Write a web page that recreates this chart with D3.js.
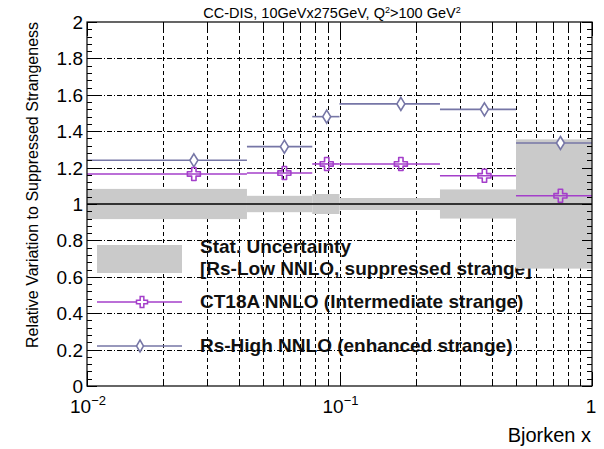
<!DOCTYPE html>
<html>
<head>
<meta charset="utf-8">
<script src="https://cdnjs.cloudflare.com/ajax/libs/d3/7.8.5/d3.min.js"></script>
<style>
  html, body { margin: 0; padding: 0; background: #fff; }
  svg { display: block; font-family: "Liberation Sans", Arial, Helvetica, sans-serif; }
</style>
</head>
<body>
<svg id="chart" width="604" height="449"></svg>
<script>
// ---- data ----
const binEdges = [0.01, 0.043, 0.078, 0.1, 0.25, 0.5, 1];
const statUnc  = [0.083, 0.045, 0.055, 0.033, 0.08, 0.355];
const ct18a    = [1.165, 1.17, 1.22, 1.22, 1.155, 1.045];
const rsHigh   = [1.24, 1.315, 1.48, 1.55, 1.52, 1.335];
const yTicks   = [0, 0.2, 0.4, 0.6, 0.8, 1, 1.2, 1.4, 1.6, 1.8, 2];
const yTickLabels = ["0", "0.2", "0.4", "0.6", "0.8", "1", "1.2", "1.4", "1.6", "1.8", "2"];
const xMajor   = [0.01, 0.1, 1];
const xMinor   = [0.02,0.03,0.04,0.05,0.06,0.07,0.08,0.09,0.2,0.3,0.4,0.5,0.6,0.7,0.8,0.9];
const title    = "CC-DIS, 10GeVx275GeV, Q";
const legendItems = ["Stat. Uncertainty", "[Rs-Low NNLO, suppressed strange]", "CT18A NNLO (Intermediate strange)", "Rs-High NNLO (enhanced strange)"];

// ---- layout ----
const L = 87, R = 592, T = 22, B = 386;
const x = d3.scaleLog().domain([0.01, 1]).range([L, R]);
const y = d3.scaleLinear().domain([0, 2]).range([B, T]);
const svg = d3.select("#chart");
const ctColor = "#a43fca", rsColor = "#7676a6", band = "#cacaca";

const bins = d3.range(ct18a.length).map(i => ({
  lo: binEdges[i], hi: binEdges[i+1], c: (binEdges[i] + binEdges[i+1]) / 2,
  unc: statUnc[i], ct: ct18a[i], rs: rsHigh[i]
}));

// legend text (drawn below grid like original)
const lg = svg.append("g").attr("font-weight", "bold").attr("font-size", 19).attr("fill", "#111");
lg.append("text").attr("x", 200).attr("y", 253).text(legendItems[0]);
lg.append("text").attr("x", 200).attr("y", 275).text(legendItems[1]);
lg.append("text").attr("x", 200).attr("y", 308).text(legendItems[2]);
lg.append("text").attr("x", 200).attr("y", 352).text(legendItems[3]);

// grid
const grid = svg.append("g").attr("stroke", "#000").attr("stroke-width", 1);
grid.selectAll("line.gx").data(xMinor.concat([0.1])).join("line")
  .attr("x1", d => Math.round(x(d)) + 0.5).attr("x2", d => Math.round(x(d)) + 0.5)
  .attr("y1", T).attr("y2", B).attr("stroke-dasharray", "4,3");
grid.selectAll("line.gy").data(yTicks.filter(v => v > 0 && v < 2)).join("line")
  .attr("x1", L).attr("x2", R)
  .attr("y1", d => Math.round(y(d)) + 0.5).attr("y2", d => Math.round(y(d)) + 0.5)
  .attr("stroke-dasharray", "5,2,1,2");

// stat uncertainty bands
svg.append("g").selectAll("rect").data(bins).join("rect")
  .attr("x", d => x(d.lo)).attr("width", d => x(d.hi) - x(d.lo))
  .attr("y", d => y(1 + d.unc)).attr("height", d => y(1 - d.unc) - y(1 + d.unc))
  .attr("fill", band);

// line at 1
svg.append("line").attr("x1", L).attr("x2", R).attr("y1", y(1)).attr("y2", y(1))
  .attr("stroke", "#000").attr("stroke-width", 1.6);

// marker shapes
function crossPath(h) {
  const a = h / 3;
  return `M${-a},${-h}L${a},${-h}L${a},${-a}L${h},${-a}L${h},${a}L${a},${a}L${a},${h}L${-a},${h}L${-a},${a}L${-h},${a}L${-h},${-a}L${-a},${-a}Z`;
}
function diamondPath(w, h) {
  return `M0,${-h}L${w},0L0,${h}L${-w},0Z`;
}

// Rs-High series
const gRs = svg.append("g");
gRs.selectAll("line").data(bins).join("line")
  .attr("x1", d => x(d.lo)).attr("x2", d => x(d.hi))
  .attr("y1", d => y(d.rs)).attr("y2", d => y(d.rs))
  .attr("stroke", rsColor).attr("stroke-width", 1.6);
gRs.selectAll("path").data(bins).join("path")
  .attr("transform", d => `translate(${x(d.c)},${y(d.rs)})`)
  .attr("d", diamondPath(4, 6.5))
  .attr("fill", "#fff").attr("stroke", rsColor).attr("stroke-width", 1.6);

// CT18A series
const gCt = svg.append("g");
gCt.selectAll("line").data(bins).join("line")
  .attr("x1", d => x(d.lo)).attr("x2", d => x(d.hi))
  .attr("y1", d => y(d.ct)).attr("y2", d => y(d.ct))
  .attr("stroke", ctColor).attr("stroke-width", 1.6);
gCt.selectAll("path").data(bins).join("path")
  .attr("transform", d => `translate(${x(d.c)},${y(d.ct)})`)
  .attr("d", crossPath(6.5))
  .attr("fill", "none").attr("stroke", ctColor).attr("stroke-width", 1.6)
  .attr("stroke-linejoin", "round");

// legend symbols
svg.append("rect").attr("x", 97).attr("y", 245).attr("width", 85).attr("height", 28).attr("fill", band);
svg.append("line").attr("x1", 97).attr("x2", 182).attr("y1", 302).attr("y2", 302).attr("stroke", ctColor).attr("stroke-width", 1.6);
svg.append("path").attr("transform", "translate(142,302)").attr("d", crossPath(5.5))
  .attr("fill", "#fff").attr("stroke", ctColor).attr("stroke-width", 1.5);
svg.append("line").attr("x1", 97).attr("x2", 182).attr("y1", 346).attr("y2", 346).attr("stroke", rsColor).attr("stroke-width", 1.6);
svg.append("path").attr("transform", "translate(140,346)").attr("d", diamondPath(3.5, 6))
  .attr("fill", "#fff").attr("stroke", rsColor).attr("stroke-width", 1.5);

// frame
svg.append("rect").attr("x", L).attr("y", T).attr("width", R - L).attr("height", B - T)
  .attr("fill", "none").attr("stroke", "#000").attr("stroke-width", 1.2);

// ticks
const tk = svg.append("g").attr("stroke", "#000").attr("stroke-width", 1);
const yMinor = d3.range(0, 2.0001, 0.04);
tk.selectAll("line.yl").data(yMinor).join("line")
  .attr("x1", L).attr("x2", (d, i) => L + (i % 5 === 0 ? 10 : 5))
  .attr("y1", d => Math.round(y(d)) + 0.5).attr("y2", d => Math.round(y(d)) + 0.5);
tk.selectAll("line.yr").data(yMinor).join("line")
  .attr("x1", R).attr("x2", (d, i) => R - (i % 5 === 0 ? 10 : 5))
  .attr("y1", d => Math.round(y(d)) + 0.5).attr("y2", d => Math.round(y(d)) + 0.5);
const xAll = xMajor.map(v => ({v, major: true})).concat(xMinor.map(v => ({v, major: false})));
tk.selectAll("line.xb").data(xAll).join("line")
  .attr("x1", d => Math.round(x(d.v)) + 0.5).attr("x2", d => Math.round(x(d.v)) + 0.5)
  .attr("y1", B).attr("y2", d => B - (d.major ? 14 : 7));
tk.selectAll("line.xt").data(xAll).join("line")
  .attr("x1", d => Math.round(x(d.v)) + 0.5).attr("x2", d => Math.round(x(d.v)) + 0.5)
  .attr("y1", T).attr("y2", d => T + (d.major ? 14 : 7));

// y tick labels
svg.append("g").attr("font-size", 19).attr("fill", "#000").attr("text-anchor", "end")
  .selectAll("text").data(yTicks).join("text")
  .attr("x", 83).attr("y", d => y(d) + 7).text((d, i) => yTickLabels[i]);

// x tick labels
const xl = svg.append("g").attr("font-size", 19).attr("fill", "#000");
const t1 = xl.append("text").attr("x", x(0.01) - 17).attr("y", 413);
t1.append("tspan").text("10");
t1.append("tspan").attr("dy", -8).attr("font-size", 13).text("\u22122");
const t2 = xl.append("text").attr("x", x(0.1) - 17).attr("y", 413);
t2.append("tspan").text("10");
t2.append("tspan").attr("dy", -8).attr("font-size", 13).text("\u22121");
xl.append("text").attr("x", x(1) - 1).attr("y", 413).attr("text-anchor", "middle").text("1");

// axis titles
svg.append("text").attr("x", 591).attr("y", 442).attr("text-anchor", "end")
  .attr("font-size", 20).text("Bjorken x");
svg.append("text").attr("transform", "translate(38,185) rotate(-90)").attr("text-anchor", "middle")
  .attr("font-size", 16).text("Relative Variation to Suppressed Strangeness");

// title
const tt = svg.append("text").attr("x", 332).attr("y", 18).attr("text-anchor", "middle").attr("font-size", 14.5);
tt.append("tspan").text(title);
tt.append("tspan").attr("dy", -5).attr("font-size", 9).text("2");
tt.append("tspan").attr("dy", 5).text(">100 GeV");
tt.append("tspan").attr("dy", -5).attr("font-size", 9).text("2");
</script>
</body>
</html>
